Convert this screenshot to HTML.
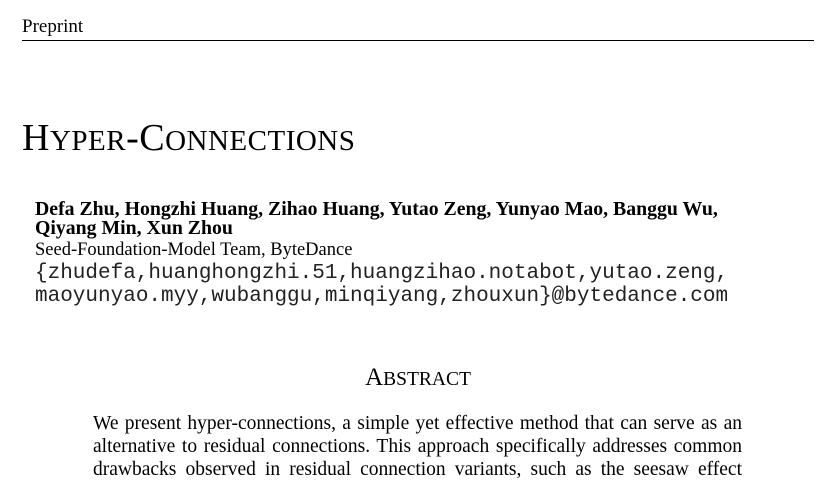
<!DOCTYPE html>
<html>
<head>
<meta charset="utf-8">
<style>
html,body{margin:0;padding:0;background:#fff;}
body{width:836px;height:478px;position:relative;overflow:hidden;font-family:"Liberation Serif",serif;color:#000;}
.a{position:absolute;white-space:nowrap;}
.j{position:absolute;left:93px;width:649px;font-size:19.5px;text-align:justify;text-align-last:justify;white-space:nowrap;}
.mono{font-family:"Liberation Mono",monospace;font-size:21px;color:#222;}
</style>
</head>
<body>
<div class="a" style="left:22px;top:16px;font-size:19px;">Preprint</div>
<div class="a" style="left:22px;top:40px;width:792px;height:1px;background:#000;"></div>

<div class="a" style="left:22px;top:116px;font-size:38px;letter-spacing:0.5px;">H<span style="font-size:29px">YPER</span>-C<span style="font-size:29px">ONNECTIONS</span></div>

<div class="a" style="left:35px;top:200px;font-size:19.8px;font-weight:bold;line-height:19px;">Defa Zhu, Hongzhi Huang, Zihao Huang, Yutao Zeng, Yunyao Mao, Banggu Wu,<br>Qiyang Min, Xun Zhou</div>
<div class="a" style="left:35px;top:240px;font-size:18.5px;">Seed-Foundation-Model Team, ByteDance</div>
<div class="a mono" style="left:35px;top:262px;line-height:23px;">{zhudefa,huanghongzhi.51,huangzihao.notabot,yutao.zeng,<br>maoyunyao.myy,wubanggu,minqiyang,zhouxun}@bytedance.com</div>

<div class="a" style="left:0;width:836px;text-align:center;top:364px;font-size:25px;">A<span style="font-size:19.5px">BSTRACT</span></div>

<div class="j" style="top:413px;">We present hyper-connections, a simple yet effective method that can serve as an</div>
<div class="j" style="top:436px;">alternative to residual connections. This approach specifically addresses common</div>
<div class="j" style="top:459px;">drawbacks observed in residual connection variants, such as the seesaw effect</div>
</body>
</html>
